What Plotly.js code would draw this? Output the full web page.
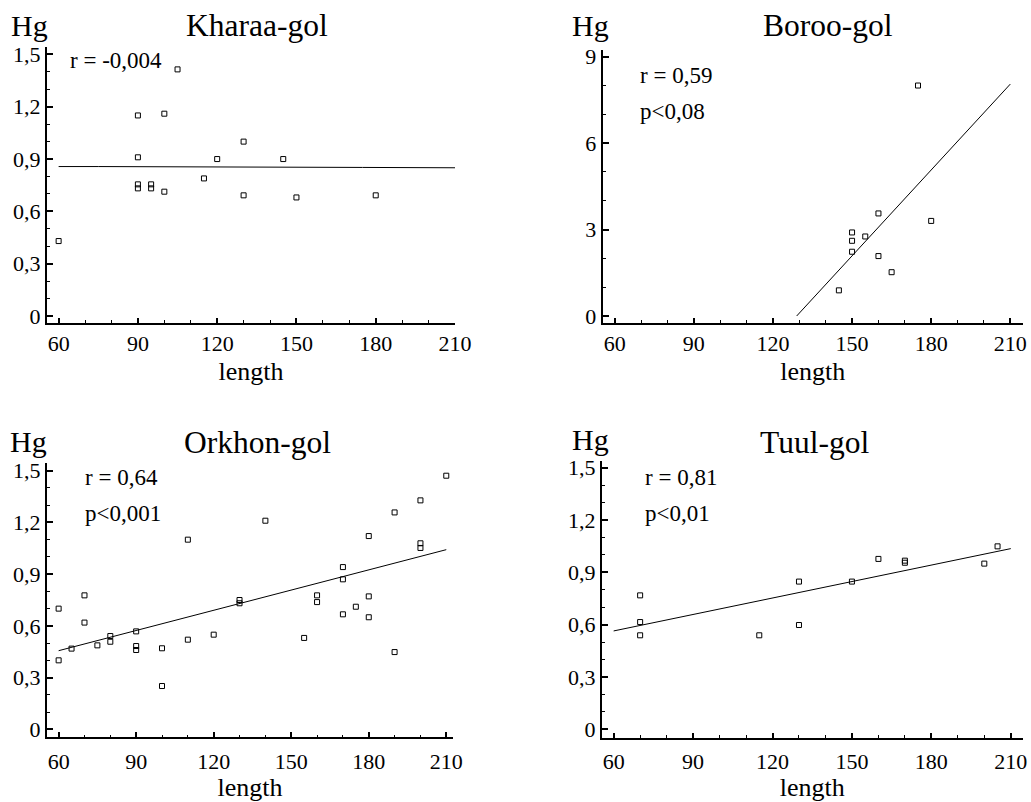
<!DOCTYPE html>
<html>
<head>
<meta charset="utf-8">
<script src="https://cdn.plot.ly/plotly-3.0.1.min.js"></script>
<style>html,body{margin:0;padding:0;background:#fff;}#chart{width:1031px;height:802px;}</style>
</head>
<body>
<div id="chart"></div>
<script>
// ---- data ----
const panelTitles = ["Kharaa-gol", "Boroo-gol", "Orkhon-gol", "Tuul-gol"];
const statLabels = [["r = -0,004"], ["r = 0,59", "p<0,08"], ["r = 0,64", "p<0,001"], ["r = 0,81", "p<0,01"]];

const kharaaX = [60, 90, 90, 90, 90, 95, 95, 100, 100, 105, 115, 120, 130, 130, 145, 150, 180];
const kharaaY = [0.43, 1.15, 0.91, 0.755, 0.732, 0.755, 0.732, 1.16, 0.713, 1.414, 0.789, 0.90, 1.0, 0.692, 0.90, 0.68, 0.692];
const kharaaFitX = [60, 75, 175, 210];
const kharaaFitY = [0.857, 0.857, 0.852, 0.85];

const borooX = [175, 160, 180, 150, 150, 155, 150, 160, 165, 145];
const borooY = [8.0, 3.56, 3.30, 2.90, 2.61, 2.76, 2.23, 2.08, 1.52, 0.89];
const borooFitX = [129, 210];
const borooFitY = [0.0, 8.05];

const orkhonX = [60, 60, 65, 70, 70, 75, 80, 80, 90, 90, 90, 100, 100, 110, 110, 120, 130, 130, 140, 155, 160, 160, 170, 170, 170, 175, 180, 180, 180, 190, 190, 200, 200, 200, 210];
const orkhonY = [0.70, 0.40, 0.468, 0.777, 0.619, 0.487, 0.541, 0.508, 0.568, 0.483, 0.46, 0.47, 0.251, 1.10, 0.52, 0.549, 0.75, 0.731, 1.21, 0.53, 0.777, 0.738, 0.941, 0.87, 0.667, 0.711, 1.121, 0.771, 0.65, 1.258, 0.448, 1.328, 1.079, 1.052, 1.471];
const orkhonFitX = [60, 210];
const orkhonFitY = [0.456, 1.042];

const tuulX = [70, 70, 70, 115, 130, 130, 150, 160, 170, 170, 200, 205];
const tuulY = [0.768, 0.615, 0.539, 0.539, 0.847, 0.598, 0.847, 0.977, 0.967, 0.955, 0.95, 1.049];
const tuulFitX = [60, 210];
const tuulFitY = [0.564, 1.036];

const xTickVals = [60, 90, 120, 150, 180, 210];
const yTickValsSmall = [0, 0.3, 0.6, 0.9, 1.2, 1.5];
const yTickValsBoroo = [0, 3, 6, 9];

// ---- layout helpers (pixel -> paper) ----
const W = 1031, H = 802;
const px = v => v / W;
const py = v => 1 - v / H;

const FONT = '"Liberation Serif", "Times New Roman", serif';

const panels = [
  {x: kharaaX, y: kharaaY, fx: kharaaFitX, fy: kharaaFitY,
   dom: [47, 455, 46.7, 322.7], xr: [55.6, 210], yr: [-0.038, 1.544], yt: yTickValsSmall, ydt: 0.1,
   titleX: 257, titleY: 25, hgX: 29.5, hgY: 25, statX: 68, statY: [60], tls: 0, so: 7},
  {x: borooX, y: borooY, fx: borooFitX, fy: borooFitY,
   dom: [602.7, 1022.7, 50, 322.7], xr: [55.45, 214.7], yr: [-0.233, 9.233], yt: yTickValsBoroo, ydt: 1,
   titleX: 828, titleY: 25, hgX: 590, hgY: 25, statX: 638, statY: [76, 112], tls: 0, so: 7},
  {x: orkhonX, y: orkhonY, fx: orkhonFitX, fy: orkhonFitY,
   dom: [47, 453, 463.3, 737.3], xr: [55.5, 212.6], yr: [-0.0464, 1.543], yt: yTickValsSmall, ydt: 0.1,
   titleX: 257, titleY: 442, hgX: 28.5, hgY: 441, statX: 83, statY: [478, 513], tls: 3, so: 5},
  {x: tuulX, y: tuulY, fx: tuulFitX, fy: tuulFitY,
   dom: [602, 1022.7, 460.7, 737.7], xr: [55.6, 214.5], yr: [-0.048, 1.540], yt: yTickValsSmall, ydt: 0.1,
   titleX: 814, titleY: 442, hgX: 590, hgY: 439, statX: 643, statY: [477, 513], tls: 3, so: 5}
];

const data = [];
const layout = {
  width: W, height: H,
  margin: {l: 0, r: 0, t: 0, b: 0},
  paper_bgcolor: "#fff", plot_bgcolor: "#fff",
  showlegend: false,
  separators: ", ",
  font: {family: FONT, color: "#000", size: 21},
  annotations: []
};

panels.forEach((p, i) => {
  const n = i === 0 ? "" : String(i + 1);
  const xa = "x" + n, ya = "y" + n;
  data.push({
    type: "scatter", mode: "markers", x: p.x, y: p.y, xaxis: xa, yaxis: ya,
    marker: {symbol: "square-open", size: 5, color: "#000", line: {width: 1, color: "#000"}},
    cliponaxis: false, hoverinfo: "x+y"
  });
  data.push({
    type: "scatter", mode: "lines", x: p.fx, y: p.fy, xaxis: xa, yaxis: ya,
    line: {color: "#000", width: 1}, hoverinfo: "skip"
  });
  layout["xaxis" + n] = {
    domain: [px(p.dom[0]), px(p.dom[1])], range: p.xr, anchor: ya,
    tickmode: "array", tickvals: xTickVals,
    ticks: "inside", ticklen: 5, tickwidth: 1.5, tickcolor: "#000",
    minor: {tickmode: "linear", tick0: 60, dtick: 10, ticks: "inside", ticklen: 2.5, tickwidth: 1, tickcolor: "#000"},
    showline: true, linecolor: "#000", linewidth: 2, showgrid: false, zeroline: false,
    tickfont: {family: FONT, size: 22, color: "#000"},
    ticklabelstandoff: p.tls,
    title: {text: "length", font: {family: FONT, size: 26, color: "#000"}, standoff: p.so},
    automargin: false, fixedrange: true
  };
  layout["yaxis" + n] = {
    domain: [py(p.dom[3]), py(p.dom[2])], range: p.yr, anchor: xa,
    tickmode: "array", tickvals: p.yt,
    ticks: "inside", ticklen: 6, tickwidth: 1.5, tickcolor: "#000",
    minor: {tickmode: "linear", tick0: 0, dtick: p.ydt, ticks: "inside", ticklen: 3, tickwidth: 1, tickcolor: "#000"},
    showline: true, linecolor: "#000", linewidth: 2, showgrid: false, zeroline: false,
    tickfont: {family: FONT, size: 22, color: "#000"},
    automargin: false, fixedrange: true
  };
  layout.annotations.push({
    text: panelTitles[i], xref: "paper", yref: "paper", x: px(p.titleX), y: py(p.titleY),
    xanchor: "center", yanchor: "middle", showarrow: false,
    font: {family: FONT, size: 31.5, color: "#000"}
  });
  layout.annotations.push({
    text: "Hg", xref: "paper", yref: "paper", x: px(p.hgX), y: py(p.hgY),
    xanchor: "center", yanchor: "middle", showarrow: false,
    font: {family: FONT, size: 30, color: "#000"}
  });
  statLabels[i].forEach((s, k) => {
    layout.annotations.push({
      text: s, xref: "paper", yref: "paper", x: px(p.statX), y: py(p.statY[k]),
      xanchor: "left", yanchor: "middle", showarrow: false,
      font: {family: FONT, size: 23, color: "#000"}
    });
  });
});

Plotly.newPlot("chart", data, layout, {displayModeBar: false});
</script>
</body>
</html>
